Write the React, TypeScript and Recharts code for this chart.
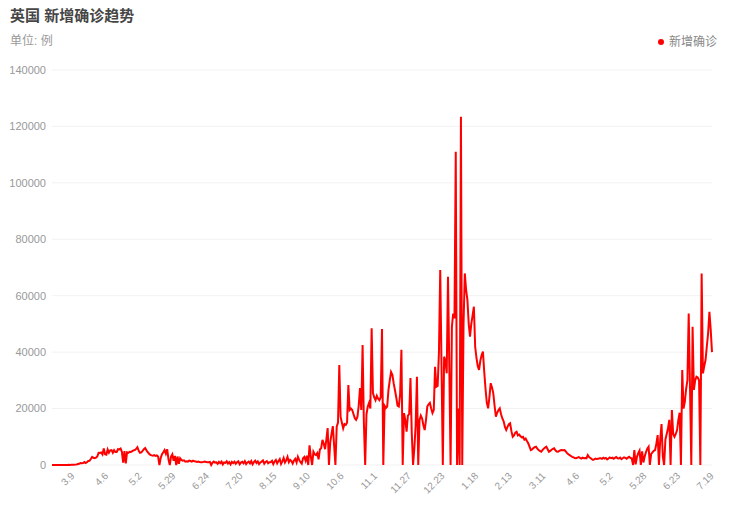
import React from 'react';
import { LineChart, Line, XAxis, YAxis, CartesianGrid } from 'recharts';

// ---- categories: daily dates (a few dates are absent in the source data) ----
const FIRST_DATE = '2020-02-22';
const LAST_DATE = '2021-07-19';
const MISSING_DATES = ['2020-03-15', '2020-03-22', '2020-05-10'];

// ---- x tick labels ----
const TICK_DATES = [
  '2020-03-09', '2020-04-06', '2020-05-02', '2020-05-29', '2020-06-24', '2020-07-20',
  '2020-08-15', '2020-09-10', '2020-10-06', '2020-11-01', '2020-11-27', '2020-12-23',
  '2021-01-18', '2021-02-13', '2021-03-11', '2021-04-06', '2021-05-02', '2021-05-28',
  '2021-06-23', '2021-07-19',
];
const Y_TICKS = [0, 20000, 40000, 60000, 80000, 100000, 120000, 140000];

// ---- series values (新增确诊), by month ----
const feb2020 = [0, 0, 0, 0, 0, 0, 0, 2];
const mar2020 = [12, 4, 11, 34, 29, 48, 43, 67, 46, 67, 134, 208, 342, 407, 676, 643, 714, 1035, 665, 967, 1427, 1452, 2129, 2885, 2546, 2433, 2619, 3009, 4324];
const apr2020 = [4244, 4450, 3735, 5903, 3802, 3634, 5491, 4344, 5195, 5288, 4342, 5252, 4603, 4617, 5599, 5525, 5850, 4676, 800, 4913, 600, 4500, 4300, 4700, 4600, 4900, 5200, 5300, 5700, 6300];
const may2020 = [5000, 4300, 4500, 5000, 5600, 6000, 5200, 4600, 4000, 3600, 3400, 3300, 3500, 3200, 3400, 3000, 0, 2500, 3800, 4500, 5300, 4000, 5600, 2000, 0, 3000, 3800, 1500, 3200, 0];
const jun2020 = [3000, 400, 2400, 1800, 1500, 1650, 1200, 1326, 1197, 1541, 1425, 1205, 1557, 1320, 1280, 1079, 1218, 1073, 1010, 940, 1101, 1195, 1100, 960, 980, 1100, 0, 830, 1200, 850];
const jul2020 = [950, 400, 1100, 650, 1200, 180, 900, 750, 1300, 520, 1000, 200, 1100, 680, 1200, 400, 950, 1300, 250, 850, 1150, 600, 1350, 300, 900, 1200, 550, 1400, 250, 1000, 1500];
const aug2020 = [700, 1300, 300, 900, 1200, 1600, 450, 1100, 1400, 600, 1000, 1000, 1500, 300, 1200, 1800, 600, 1400, 2100, 400, 1300, 2500, 900, 1700, 2900, 1000, 1800, 1400, 500, 1600, 2200];
const sep2020 = [900, 2900, 1800, 1000, 500, 2400, 2900, 1500, 3300, 0, 7000, 3000, 0, 4700, 3800, 3500, 4200, 2000, 5500, 6000, 8900, 7500, 5600, 9000, 13100, 0, 8000, 11000, 13800, 7000];
const oct2020 = [0, 13600, 15000, 35400, 17100, 15000, 13000, 14500, 14200, 15000, 28300, 19500, 20000, 19500, 18000, 16600, 16000, 17000, 21000, 27300, 19500, 42500, 15000, 0, 18000, 20700, 22000, 20000, 48500, 25500, 24000];
const nov2020 = [23000, 24500, 23500, 23000, 24000, 48200, 0, 21000, 20200, 20700, 26600, 30000, 33000, 32000, 29000, 26600, 24000, 21000, 20700, 25000, 40800, 0, 18400, 16000, 11800, 17500, 18000, 30800, 11300, 0];
const dec2020 = [6000, 14000, 31300, 0, 16000, 17500, 16500, 14000, 12400, 16000, 20700, 21500, 22000, 20000, 18400, 19500, 34800, 27700, 28000, 40000, 69100, 35000, 0, 38400, 37000, 32500, 66700, 35000, 0, 49000, 53700];
const jan2021 = [52000, 111000, 0, 20000, 0, 123400, 0, 50000, 67900, 62000, 58500, 50000, 45500, 50000, 53000, 56100, 41900, 38000, 35000, 33700, 37000, 39000, 40200, 33000, 27000, 22000, 20100, 24000, 29000, 27500, 25400];
const feb2021 = [21000, 17100, 18500, 19500, 20100, 18000, 16500, 15500, 13500, 12400, 13500, 14500, 14800, 12000, 10000, 10500, 11500, 11800, 10500, 10800, 10200, 9800, 10000, 9000, 9400, 8500, 7700, 6500];
const mar2021 = [5300, 5500, 6000, 6300, 6500, 5800, 5300, 5000, 4700, 5300, 5800, 6200, 6500, 5600, 4700, 5000, 5400, 5700, 5900, 5200, 4800, 4700, 5000, 5200, 5300, 5200, 5300, 4800, 4200, 3800, 3500];
const apr2021 = [3200, 2900, 2700, 2500, 2400, 2600, 2800, 2500, 2300, 2600, 2400, 2500, 2400, 3500, 2800, 2500, 2100, 1800, 2000, 2300, 2100, 2200, 2400, 2400, 2200, 2600, 2300, 2500, 2000, 2300];
const may2021 = [2700, 2400, 2600, 2200, 2500, 2800, 2400, 2300, 2600, 2100, 2400, 2700, 2500, 2200, 2600, 2900, 2500, 2300, 0, 5300, 200, 2800, 4200, 5100, 0, 4800, 900, 3000, 4600, 5800, 6500];
const jun2021 = [0, 3900, 4500, 5000, 5300, 7500, 10600, 0, 9000, 14500, 3000, 0, 9000, 11000, 13000, 16000, 0, 19500, 11000, 10000, 11000, 12400, 16000, 18500, 0, 33700, 20000, 22400, 27000, 30000];
const jul2021 = [53700, 27700, 0, 49000, 26600, 30000, 31300, 31000, 30000, 0, 67900, 32500, 35000, 37200, 42000, 46700, 54300, 48000, 40000];

const VALUES = [
  ...feb2020, ...mar2020, ...apr2020, ...may2020, ...jun2020, ...jul2020, ...aug2020,
  ...sep2020, ...oct2020, ...nov2020, ...dec2020, ...jan2021, ...feb2021, ...mar2021,
  ...apr2021, ...may2021, ...jun2021, ...jul2021,
];

function buildDates(): string[] {
  const out: string[] = [];
  const [y0, m0, d0] = FIRST_DATE.split('-').map(Number);
  const [y1, m1, d1] = LAST_DATE.split('-').map(Number);
  const cur = new Date(Date.UTC(y0, m0 - 1, d0));
  const end = Date.UTC(y1, m1 - 1, d1);
  while (cur.getTime() <= end) {
    const s = cur.toISOString().slice(0, 10);
    if (!MISSING_DATES.includes(s)) out.push(s);
    cur.setUTCDate(cur.getUTCDate() + 1);
  }
  return out;
}

const DATES = buildDates();
const data = DATES.map((date, i) => ({ date, value: VALUES[i] ?? 0 }));

const fmtDate = (s: string) => {
  const [, m, d] = s.split('-');
  return `${Number(m)}.${Number(d)}`;
};

const FONT = 'Arial, "Liberation Sans", "Noto Sans CJK SC", sans-serif';

const RotTick = (props: any) => {
  const { x, y, payload } = props;
  return (
    <g transform={`translate(${x},${y})`}>
      <text
        x={0}
        y={0}
        dy="0.35em"
        textAnchor="end"
        transform="rotate(-45)"
        fontSize={10}
        fill="#999"
        fontFamily={FONT}
      >
        {fmtDate(String(payload.value))}
      </text>
    </g>
  );
};

export default function App() {
  return (
    <div
      style={{
        position: 'absolute',
        left: 0,
        top: 0,
        width: 732,
        height: 509,
        background: '#fff',
        fontFamily: FONT,
      }}
    >
      <div
        style={{
          position: 'absolute',
          left: 10,
          top: 6,
          fontSize: 15,
          lineHeight: '20px',
          fontWeight: 'bold',
          color: '#464646',
          whiteSpace: 'nowrap',
        }}
      >
        英国 新增确诊趋势
      </div>
      <div
        style={{
          position: 'absolute',
          left: 10,
          top: 33,
          fontSize: 12,
          lineHeight: '16px',
          color: '#999',
          whiteSpace: 'nowrap',
        }}
      >
        单位: 例
      </div>
      <div
        style={{
          position: 'absolute',
          left: 658,
          top: 39,
          width: 6,
          height: 6,
          borderRadius: '50%',
          background: '#ff0000',
        }}
      />
      <div
        style={{
          position: 'absolute',
          left: 669,
          top: 34,
          fontSize: 12,
          lineHeight: '16px',
          color: '#888',
          whiteSpace: 'nowrap',
        }}
      >
        新增确诊
      </div>
      <LineChart
        width={732}
        height={509}
        data={data}
        margin={{ top: 70, right: 20, left: 0, bottom: 0 }}
      >
        <CartesianGrid vertical={false} stroke="#f2f2f2" />
        <XAxis
          dataKey="date"
          type="category"
          allowDuplicatedCategory={false}
          ticks={TICK_DATES}
          interval={0}
          axisLine={false}
          tickLine={false}
          tickSize={0}
          tickMargin={9}
          height={44}
          tick={<RotTick />}
        />
        <YAxis
          type="number"
          domain={[0, 140000]}
          ticks={Y_TICKS}
          interval={0}
          axisLine={false}
          tickLine={false}
          tickSize={0}
          tickMargin={6}
          width={52}
          tick={{ fontSize: 11, fill: '#999', fontFamily: FONT }}
        />
        <Line
          type="linear"
          dataKey="value"
          stroke="#ff0000"
          strokeWidth={2}
          dot={false}
          activeDot={false}
          isAnimationActive={false}
        />
      </LineChart>
    </div>
  );
}
